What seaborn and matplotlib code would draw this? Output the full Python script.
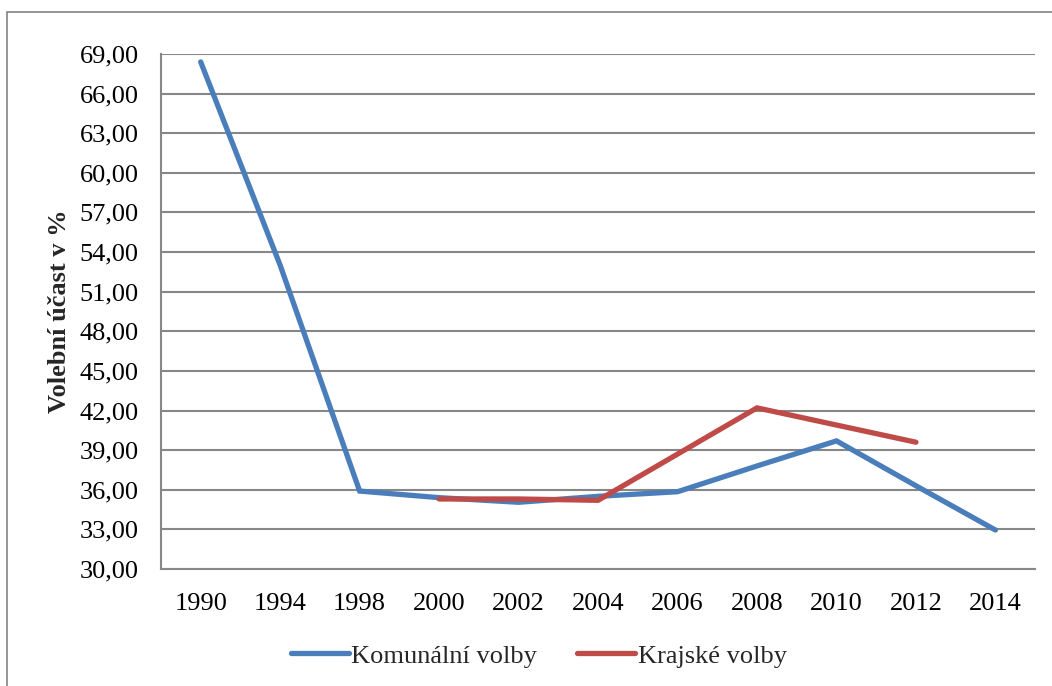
import matplotlib.pyplot as plt
import matplotlib.patches as mpatches
import numpy as np
import pandas as pd
import seaborn as sns

years = ["1990", "1994", "1998", "2000", "2002", "2004", "2006", "2008", "2010", "2012", "2014"]
komunalni = [68.4, 53.0, 35.9, 35.4, 35.05, 35.5, 35.85, 37.8, 39.7, 36.3, 32.95]
krajske = [np.nan, np.nan, np.nan, 35.3, 35.3, 35.2, 38.7, 42.2, 40.9, 39.6, np.nan]
series_names = ["Komunální volby", "Krajské volby"]
y_ticks = np.arange(30, 70, 3)

sns.set_theme(style="white")
plt.rcParams.update(
    {
        "font.family": ["Liberation Serif", "DejaVu Serif"],
        "font.size": 19,
        "axes.unicode_minus": False,
    }
)

df = pd.DataFrame({"rok": years, series_names[0]: komunalni, series_names[1]: krajske})
df["pos"] = np.arange(len(years))
long = df.melt(id_vars=["rok", "pos"], var_name="serie", value_name="ucast").dropna()

fig = plt.figure(figsize=(10.52, 6.86), dpi=100)
ax = fig.add_axes([0.153, 0.1706, 0.831, 0.7507])

# outer chart frame (Excel style)
fig.patches.append(
    mpatches.Rectangle(
        (7 / 1052, -0.05), 1.1, 1 - 12 / 686 + 0.05,
        transform=fig.transFigure, fill=False, edgecolor="#8c8c8c", linewidth=1.3,
    )
)

sns.lineplot(
    data=long,
    x="pos",
    y="ucast",
    hue="serie",
    palette={series_names[0]: "#4a7ebb", series_names[1]: "#be4b48"},
    linewidth=3.8,
    ax=ax,
    legend=False,
    solid_capstyle="round",
    solid_joinstyle="miter",
)

ax.set_xlim(-0.5, len(years) - 0.5)
ax.set_ylim(30, 69)
ax.set_yticks(y_ticks)
ax.set_yticklabels([f"{v:.2f}".replace(".", ",") for v in y_ticks])
ax.set_xticks(df["pos"])
ax.set_xticklabels(years)
ax.tick_params(axis="both", length=0, labelsize=19, colors="black")
ax.tick_params(axis="x", pad=17)
ax.tick_params(axis="y", pad=16)
ax.yaxis.grid(True, color="#878787", linewidth=1.5)
ax.set_axisbelow(True)
for side in ["top", "right"]:
    ax.spines[side].set_visible(False)
for side in ["left", "bottom"]:
    ax.spines[side].set_color("#878787")
    ax.spines[side].set_linewidth(1.5)
ax.set_xlabel("")
ax.set_ylabel("Volební účast v %", fontweight="bold", fontsize=19, labelpad=6)

handles = [
    plt.Line2D([], [], color="#4a7ebb", linewidth=3.8, solid_capstyle="round"),
    plt.Line2D([], [], color="#be4b48", linewidth=3.8, solid_capstyle="round"),
]
fig.legend(
    handles,
    series_names,
    loc="center",
    bbox_to_anchor=(0.512, 0.044),
    ncol=2,
    frameon=False,
    handlelength=2.2,
    handletextpad=0.1,
    columnspacing=1.5,
    fontsize=19,
)

fig.savefig("out.png", dpi=100)
